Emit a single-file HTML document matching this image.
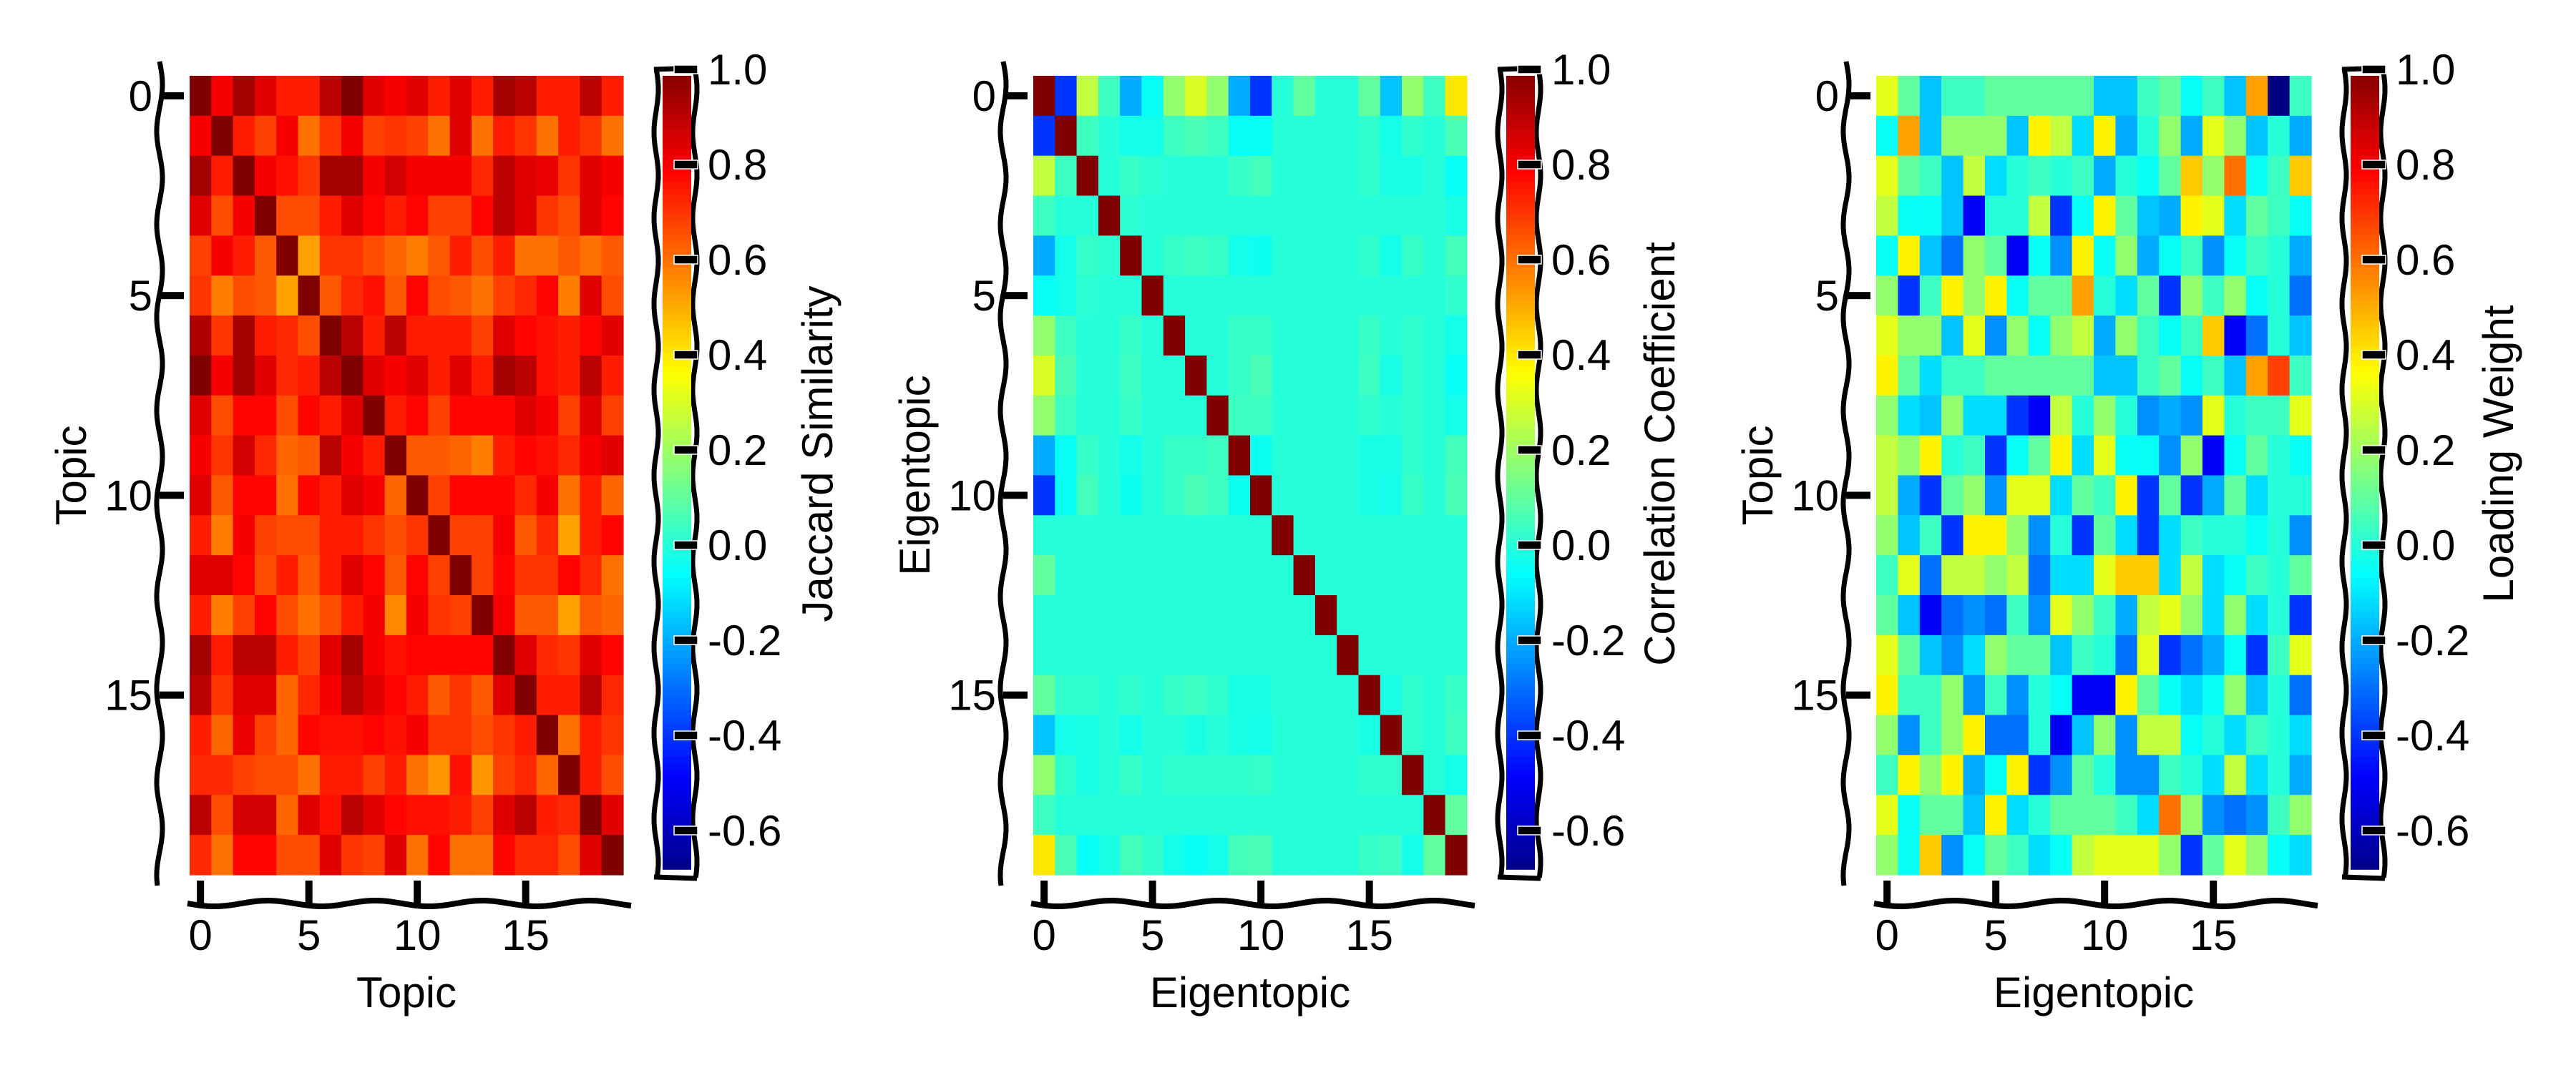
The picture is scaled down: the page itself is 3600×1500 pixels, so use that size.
<!DOCTYPE html>
<html><head><meta charset="utf-8">
<style>
html,body{margin:0;padding:0;background:#fff;}
svg{display:block;}
text{font-family:"Liberation Sans",sans-serif;fill:#000;}
</style></head>
<body>
<svg id="chart" width="3600" height="1500" viewBox="0 0 3600 1500"></svg>
<script>
// ---------- data ----------
const tickLabels = [0,5,10,15];
const cbarTicks = [1.0,0.8,0.6,0.4,0.2,0.0,-0.2,-0.4,-0.6];
const vmin = -0.7, vmax = 1.0;

const jaccard = [
[1.0,.8,.94,.84,.74,.74,.9,1.0,.84,.8,.84,.74,.84,.74,.94,.9,.74,.74,.9,.74],
[.8,1.0,.74,.68,.8,.6,.7,.8,.68,.7,.68,.6,.84,.6,.74,.7,.6,.74,.7,.6],
[.94,.74,1.0,.8,.76,.7,.94,.94,.8,.86,.8,.8,.8,.72,.9,.84,.82,.7,.84,.8],
[.84,.66,.8,1.0,.66,.66,.74,.84,.78,.74,.78,.68,.68,.78,.9,.84,.7,.66,.84,.78],
[.68,.8,.74,.64,1.0,.52,.7,.7,.66,.62,.58,.64,.74,.66,.74,.6,.6,.64,.6,.64],
[.7,.58,.66,.64,.52,1.0,.64,.72,.76,.64,.78,.66,.64,.6,.68,.72,.78,.58,.84,.66],
[.92,.7,.94,.74,.72,.66,1.0,.9,.74,.9,.74,.74,.74,.68,.84,.78,.76,.74,.78,.84],
[1.0,.8,.94,.84,.72,.74,.9,1.0,.84,.8,.84,.74,.84,.74,.94,.9,.76,.74,.9,.74],
[.84,.66,.78,.78,.66,.78,.74,.84,1.0,.74,.78,.68,.78,.78,.78,.84,.8,.68,.84,.68],
[.8,.7,.86,.72,.62,.64,.9,.8,.74,1.0,.64,.64,.62,.58,.74,.78,.76,.72,.8,.84],
[.84,.64,.78,.78,.6,.78,.74,.84,.8,.62,1.0,.68,.78,.78,.78,.72,.8,.6,.74,.62],
[.74,.58,.8,.68,.66,.66,.74,.74,.7,.66,.7,1.0,.68,.68,.8,.64,.72,.52,.74,.78],
[.84,.84,.78,.66,.74,.64,.74,.84,.78,.64,.78,.68,1.0,.68,.78,.7,.7,.78,.72,.6],
[.74,.58,.68,.78,.66,.6,.66,.74,.8,.56,.8,.7,.68,1.0,.8,.64,.64,.52,.64,.62],
[.94,.74,.9,.9,.74,.68,.84,.94,.8,.76,.78,.78,.78,.78,1.0,.84,.72,.7,.84,.78],
[.9,.7,.84,.84,.62,.72,.8,.9,.84,.78,.74,.64,.7,.64,.84,1.0,.74,.74,.9,.72],
[.74,.62,.82,.68,.62,.78,.76,.76,.78,.76,.8,.7,.7,.66,.7,.74,1.0,.6,.74,.7],
[.72,.72,.68,.66,.66,.6,.74,.74,.68,.74,.6,.54,.76,.54,.68,.72,.62,1.0,.74,.66],
[.9,.66,.86,.86,.62,.84,.76,.9,.84,.78,.76,.76,.74,.68,.84,.9,.74,.72,1.0,.84],
[.72,.6,.78,.78,.66,.66,.84,.7,.68,.84,.6,.78,.6,.6,.78,.72,.72,.66,.84,1.0]
];

const correlation = [
[1,-.4,.26,.04,-.2,-.05,.18,.3,.18,-.2,-.4,0,.1,0,0,.1,-.16,.18,.04,.4],
[-.4,1,.04,0,-.03,-.03,.04,.06,.04,-.05,-.05,0,0,0,0,.02,-.03,.02,0,.06],
[.26,.04,1,0,.03,.01,0,0,0,.03,.05,0,0,0,0,.02,-.02,-.02,0,-.05],
[.04,0,0,1,.01,0,0,0,0,0,0,0,0,0,0,0,0,0,0,-.02],
[-.2,-.03,.03,.01,1,0,.03,.04,.03,-.03,-.04,0,0,0,0,.02,-.03,.03,0,.05],
[-.05,-.03,.01,0,0,1,0,0,0,0,0,0,0,0,0,0,0,0,0,.02],
[.18,.04,0,0,.03,0,1,0,0,.03,.03,0,0,0,0,.03,0,.02,0,-.03],
[.3,.06,0,0,.04,0,0,1,0,.03,.06,0,0,0,0,.04,-.02,.02,0,-.05],
[.18,.04,0,0,.03,0,0,0,1,.04,.04,0,0,0,0,.02,0,.02,0,-.03],
[-.2,-.05,.03,0,-.03,0,.03,.03,.04,1,-.04,0,0,0,0,-.02,-.02,.02,0,.05],
[-.4,-.05,.05,0,-.04,0,.03,.06,.04,-.04,1,0,0,0,0,-.02,-.03,.03,0,.06],
[0,0,0,0,0,0,0,0,0,0,0,1,0,0,0,0,0,0,0,0],
[.1,0,0,0,0,0,0,0,0,0,0,0,1,0,0,0,0,0,0,0],
[0,0,0,0,0,0,0,0,0,0,0,0,0,1,0,0,0,0,0,0],
[0,0,0,0,0,0,0,0,0,0,0,0,0,0,1,0,0,0,0,0],
[.1,.02,.02,0,.02,0,.03,.04,.02,-.02,-.02,0,0,0,0,1,-.02,.02,0,.03],
[-.16,-.03,-.02,0,-.03,0,0,-.02,0,-.02,-.03,0,0,0,0,-.02,1,.02,0,.04],
[.18,.02,-.02,0,.03,0,.02,.02,.02,.02,.03,0,0,0,0,.02,.02,1,0,-.03],
[.04,0,0,0,0,0,0,0,0,0,0,0,0,0,0,0,0,0,1,.1],
[.4,.06,-.05,-.02,.05,.02,-.03,-.05,-.03,.05,.06,0,0,0,0,.03,.04,-.03,.1,1]
];

const loading = [
[.32,.1,-.16,.04,.04,.1,.1,.1,.1,.1,-.16,-.16,.04,.1,-.05,.04,-.16,.52,-.7,.04],
[-.05,.52,-.16,.18,.18,.18,-.16,.38,.26,-.12,.38,-.2,0,.18,-.2,.32,.18,-.16,0,-.2],
[.32,.1,.04,-.16,.26,-.12,0,.04,0,.04,-.2,0,-.05,.1,.45,.18,.6,-.05,.04,.45],
[.26,-.05,-.05,-.16,-.5,0,0,.26,-.4,-.05,.38,.1,-.16,-.2,.38,.32,-.12,.1,.04,-.05],
[-.05,.38,-.16,-.3,.18,.1,-.5,-.05,-.25,.38,-.05,.18,-.2,-.05,.04,-.25,-.05,.04,0,-.2],
[.18,-.4,.04,.38,.18,.38,-.05,.1,.1,.52,0,-.12,.1,-.4,.18,.04,.18,-.05,0,-.3],
[.32,.18,.18,-.16,.32,-.25,.18,-.05,.18,.26,-.2,.18,.04,-.05,.04,.45,-.5,-.3,0,-.16],
[.38,.1,-.12,.04,.04,.1,.1,.1,.1,.1,-.16,-.16,.04,.1,-.05,.04,-.16,.52,.68,.04],
[.18,-.12,-.16,.18,-.12,-.12,-.4,-.5,.26,0,.18,0,-.25,-.2,-.25,.32,0,.04,.04,.32],
[.26,.18,.38,0,.04,-.4,-.05,.1,.38,-.12,.32,-.05,-.05,-.25,.18,-.5,-.05,.1,0,-.05],
[.26,-.2,-.4,.1,.18,-.25,.32,.32,-.12,.1,.04,.38,-.4,.1,-.4,-.2,.1,-.12,0,0],
[.18,-.16,.04,-.4,.38,.38,.18,-.25,0,-.4,.1,-.12,-.4,-.12,.04,0,0,-.05,0,-.25],
[.04,.32,-.3,.26,.26,.18,.26,-.3,-.12,-.12,.32,.45,.45,-.12,.26,-.12,-.05,.04,0,.1],
[.1,-.16,-.5,-.3,-.25,-.3,.04,-.25,.32,.18,.04,-.2,.26,.32,.18,-.12,.18,-.12,0,-.4],
[.32,.1,-.16,-.25,-.12,.18,.1,.1,-.16,.04,0,-.3,.32,-.4,-.3,-.2,-.05,-.4,.04,.32],
[.38,.04,.04,.18,-.25,.04,-.25,0,-.05,-.5,-.5,.38,.1,-.05,-.12,-.05,.18,-.16,0,-.3],
[.18,-.25,.04,.18,.38,-.3,-.3,0,-.5,-.16,.18,-.25,.26,.26,-.05,0,-.12,.04,0,-.12],
[.04,.38,.18,.38,-.2,-.05,.38,-.4,-.25,.1,0,-.25,-.25,.04,0,-.12,.26,-.12,0,-.2],
[.32,-.05,.1,.1,-.16,.38,-.12,0,.1,.1,.1,.04,-.12,.6,.18,-.25,-.3,-.25,.04,.18],
[.18,-.05,.45,-.25,-.05,.1,.04,-.12,-.05,.26,.32,.32,.32,.18,-.4,.1,.32,.18,-.05,-.12]
];

// ---------- drawing ----------
const NS = "http://www.w3.org/2000/svg";
const svg = document.getElementById('chart');
function mk(tag, attrs, parent){
  const e = document.createElementNS(NS, tag);
  for (const k in attrs) e.setAttribute(k, attrs[k]);
  (parent||svg).appendChild(e);
  return e;
}
function clip(x){return Math.max(0,Math.min(1,x));}
function jet(v){
  const t = clip((v - vmin)/(vmax - vmin));
  const r = clip(1.5-Math.abs(4*t-3)), g = clip(1.5-Math.abs(4*t-2)), b = clip(1.5-Math.abs(4*t-1));
  return `rgb(${Math.round(r*255)},${Math.round(g*255)},${Math.round(b*255)})`;
}
function wavyH(x0,x1,y,amp,per){
  let d=`M${x0},${y}`;
  for(let x=x0;x<=x1;x+=4) d+=` L${x},${(y+amp*Math.sin((x-x0)/per*2*Math.PI)).toFixed(1)}`;
  return d;
}
function wavyV(x,y0,y1,amp,per){
  let d=`M${x},${y0}`;
  for(let y=y0;y<=y1;y+=4) d+=` L${(x+amp*Math.sin((y-y0)/per*2*Math.PI)).toFixed(1)},${y}`;
  return d;
}

const TOP = 106, BOT = 1223, N = 20;
const panels = [
  {name:'jaccard', data:jaccard, left:265, right:871, ylab:'Topic', xlab:'Topic', clab:'Jaccard Similarity', cOff:272},
  {name:'correlation', data:correlation, left:1444, right:2050, ylab:'Eigentopic', xlab:'Eigentopic', clab:'Correlation Coefficient', cOff:270},
  {name:'loading', data:loading, left:2622, right:3230, ylab:'Topic', xlab:'Eigentopic', clab:'Loading Weight', cOff:262}
];

panels.forEach(p=>{
  const g = mk('g',{});
  
  
  const cw = (p.right-p.left)/N, ch = (BOT-TOP)/N;
  const xS = j => p.left + j*cw;
  const yS = i => TOP + i*ch;
  const hm = mk('g',{},g);
  
  
  p.data.forEach((row,i)=>row.forEach((v,j)=>{
    const r = mk('rect',{x:xS(j).toFixed(2),y:yS(i).toFixed(2),width:(cw+0.6).toFixed(2),height:(ch+0.6).toFixed(2),fill:jet(v)},hm);
    
    
  }));
  // y axis
  const ax = p.left-42;
  const yl = mk('path',{d:wavyV(ax,86,1240,4,130),stroke:'#000','stroke-width':7,fill:'none'},g);
  
  
  tickLabels.forEach(t=>{
    const cy = yS(t)+ch/2;
    mk('rect',{x:ax,y:cy-5,width:34,height:10,fill:'#000'},g);
    const tx = mk('text',{x:ax-10,y:cy+21,'font-size':60,'text-anchor':'end'},g);
    tx.textContent = t;
    
    
  });
  // x axis
  const xl = mk('path',{d:wavyH(p.left-3,p.right+12,1263,4,150),stroke:'#000','stroke-width':8,fill:'none'},g);
  
  
  tickLabels.forEach(t=>{
    const cx = xS(t)+cw/2;
    mk('rect',{x:cx-5,y:1231,width:10,height:32,fill:'#000'},g);
    const tx = mk('text',{x:cx,y:1328,'font-size':60,'text-anchor':'middle'},g);
    tx.textContent = t;
    
    
  });
  const xt = mk('text',{x:(p.left+p.right)/2,y:1408,'font-size':60,'text-anchor':'middle'},g);
  xt.textContent = p.xlab;
  
  
  const ycx = p.left-165, ycy = (TOP+BOT)/2;
  const yt = mk('text',{x:ycx,y:ycy,'font-size':60,'text-anchor':'middle',transform:`rotate(-90 ${ycx} ${ycy}) translate(0 20)`},g);
  yt.textContent = p.ylab;
  
  
  // colorbar
  const cbY = v => 97 + (1 - v)*665;
  const cx0 = p.right+43;
  const cb = mk('g',{},g);
  
  
  mk('path',{d:wavyV(cx0+3,95,1228,3,120),stroke:'#000','stroke-width':7,fill:'none'},cb);
  mk('path',{d:wavyV(cx0+57,95,1228,3,120),stroke:'#000','stroke-width':7,fill:'none'},cb);
  mk('line',{x1:cx0,y1:97,x2:cx0+60,y2:95,stroke:'#000','stroke-width':7},cb);
  mk('line',{x1:cx0,y1:1226,x2:cx0+60,y2:1228,stroke:'#000','stroke-width':7},cb);
  const steps = 120, top = 106, bot = 1215;
  for(let k=0;k<steps;k++){
    const y0 = top + (bot-top)*k/steps;
    const v = 1 - (y0 + (bot-top)/steps/2 - 97)/665;
    mk('rect',{x:cx0+12,y:y0.toFixed(2),width:40,height:((bot-top)/steps+0.8).toFixed(2),fill:jet(v)},cb);
  }
  cbarTicks.forEach(v=>{
    const y = cbY(v);
    mk('rect',{x:cx0+28,y:y-6,width:33,height:12,fill:'#000',stroke:'#fff','stroke-width':1.5},cb);
    const tx = mk('text',{x:cx0+75,y:y+21,'font-size':60},cb);
    tx.textContent = v.toFixed(1);
    
    
  });
  const lx = p.right+p.cOff, ly = (TOP+BOT)/2 - 30;
  const lt = mk('text',{x:lx,y:ly,'font-size':60,'text-anchor':'middle',transform:`rotate(-90 ${lx} ${ly}) translate(0 20)`},g);
  lt.textContent = p.clab;
  
  
});
</script>
</body></html>
